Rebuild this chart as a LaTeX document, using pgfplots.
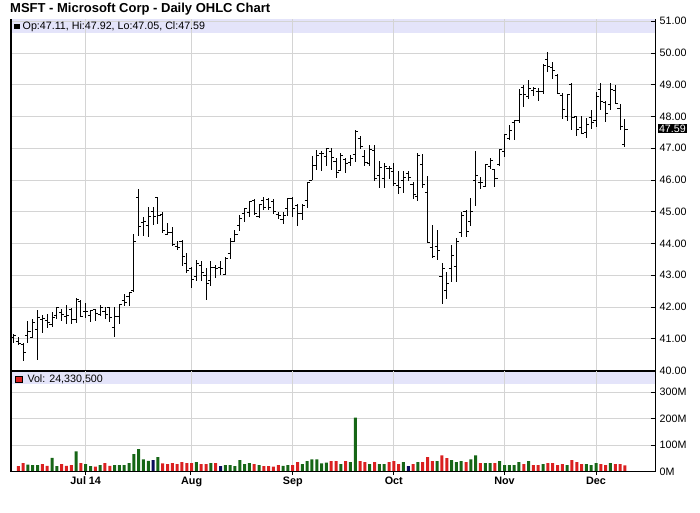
\documentclass[border=0pt]{standalone}
\usepackage{pgfplots}
\pgfplotsset{compat=1.18}
\usepackage{pgfplotstable}
\usepackage{fontspec}
\setmainfont{Liberation Sans}
\definecolor{band}{RGB}{228,228,250}
\definecolor{gridc}{RGB}{212,212,212}
\definecolor{vgreen}{RGB}{22,102,22}
\definecolor{vred}{RGB}{218,32,32}
\definecolor{vnavy}{RGB}{12,12,92}
\pgfdeclareplotmark{otick}{\pgfpathmoveto{\pgfqpoint{-2.6pt}{0pt}}\pgfpathlineto{\pgfqpoint{0pt}{0pt}}\pgfusepathqstroke}
\pgfdeclareplotmark{ctick}{\pgfpathmoveto{\pgfqpoint{0pt}{0pt}}\pgfpathlineto{\pgfqpoint{2.6pt}{0pt}}\pgfusepathqstroke}
\pgfplotstableread{
i o h l c v k
-15 41.03 41.16 40.86 41.11 0 9
-14 40.93 41.07 40.80 40.86 21 -1
-13 40.81 40.88 40.29 40.58 32 -1
-12 41.10 41.57 40.86 41.23 27 1
-11 41.04 41.61 41.04 41.50 25 1
-10 41.29 41.91 40.34 41.68 25 1
-9 41.61 41.74 41.18 41.65 29 -1
-8 41.57 41.77 41.33 41.51 22 -1
-7 41.45 41.83 41.38 41.68 52 1
-6 41.73 42.00 41.62 41.99 21 1
-5 41.83 41.94 41.56 41.75 29 -1
-4 41.70 42.05 41.46 41.72 22 -1
-3 41.93 41.96 41.46 41.62 25 -1
-2 41.61 42.29 41.51 42.25 77 1
-1 42.17 42.21 41.70 41.70 32 -1
0 41.86 42.12 41.66 41.87 29 1
1 41.73 41.90 41.53 41.90 21 1
2 41.91 41.95 41.56 41.80 19 -1
3 41.75 42.05 41.71 41.99 25 1
4 41.87 42.00 41.61 41.78 32 -1
5 41.98 41.99 41.53 41.67 22 -1
6 41.37 42.00 41.05 41.69 25 1
7 41.70 42.09 41.48 42.09 25 1
8 42.22 42.42 42.04 42.14 25 1
9 42.33 42.47 42.03 42.45 32 1
10 42.51 44.31 42.48 44.08 66 1
11 45.45 45.71 44.25 44.53 85 1
12 44.65 44.84 44.25 44.69 47 1
13 44.56 45.16 44.22 44.84 41 1
14 45.00 45.15 44.59 44.84 44 0
15 45.45 45.45 44.62 44.87 55 1
16 44.93 45.00 44.32 44.40 31 -1
17 44.30 44.66 44.30 44.35 29 -1
18 44.36 44.51 43.93 43.97 32 -1
19 43.91 44.09 43.80 43.89 29 -1
20 44.07 44.10 43.29 43.58 36 -1
21 43.38 43.69 43.08 43.16 32 -1
22 43.21 43.25 42.60 42.86 32 -1
23 42.97 43.47 42.81 43.37 36 1
24 43.31 43.46 42.83 43.08 29 -1
25 43.00 43.24 42.21 42.74 29 -1
26 42.84 43.45 42.65 43.23 32 1
27 43.23 43.32 42.91 43.20 32 -1
28 43.26 43.45 43.02 43.20 21 0
29 43.04 43.59 43.00 43.52 25 1
30 43.68 44.18 43.52 44.08 25 1
31 44.08 44.42 44.06 44.27 21 1
32 44.58 44.90 44.40 44.79 44 1
33 44.94 45.11 44.68 45.11 29 1
34 44.97 45.34 44.83 45.33 32 1
35 45.34 45.40 44.90 44.95 29 -1
36 44.84 45.25 44.83 45.22 25 1
37 45.35 45.47 45.07 45.15 21 -1
38 45.40 45.44 45.04 45.14 21 -1
39 45.31 45.40 44.94 45.01 19 -1
40 44.90 45.00 44.76 44.87 25 -1
41 44.75 44.98 44.61 44.88 22 1
42 45.09 45.44 44.86 45.43 25 1
43 45.43 45.46 44.85 45.09 25 -1
44 45.20 45.24 44.55 44.96 36 -1
45 44.96 45.24 44.74 45.20 29 1
46 45.34 45.95 45.11 45.91 40 1
47 45.99 46.74 45.99 46.47 47 1
48 46.47 46.96 46.33 46.76 47 1
49 46.82 46.90 46.28 46.84 31 1
50 46.75 47.02 46.44 47.00 34 1
51 46.89 47.02 46.33 46.70 40 -1
52 46.59 46.70 46.07 46.24 40 -1
53 46.30 46.86 46.28 46.76 29 1
54 46.65 46.70 46.23 46.52 40 -1
55 46.56 46.80 46.44 46.68 36 1
56 46.81 47.57 46.57 47.52 204 1
57 47.30 47.37 46.98 47.06 40 -1
58 46.74 46.96 46.44 46.56 36 -1
59 46.53 47.11 46.44 46.96 29 1
60 46.93 47.11 45.97 46.04 36 -1
61 46.15 46.60 45.74 46.41 29 1
62 46.04 46.54 45.74 46.44 29 1
63 46.37 46.44 46.03 46.36 36 -1
64 46.27 46.54 45.81 45.90 40 -1
65 45.83 46.28 45.55 45.76 29 -1
66 45.98 46.29 45.58 46.09 36 1
67 46.20 46.28 45.98 46.09 21 0
68 45.86 45.93 45.41 45.53 29 -1
69 45.48 46.86 45.35 46.78 36 1
70 46.50 46.81 45.75 45.85 36 -1
71 45.60 46.14 44.00 44.03 55 -1
72 43.88 44.57 43.53 43.58 40 -1
73 43.90 44.42 43.48 43.79 40 1
74 42.95 43.40 42.10 43.22 62 -1
75 42.53 43.11 42.25 42.74 51 -1
76 43.20 43.95 42.80 43.63 44 1
77 43.27 44.16 42.80 44.08 36 1
78 44.36 44.99 44.19 44.88 40 1
79 45.00 45.06 44.21 44.38 36 -1
80 44.70 45.44 44.54 45.02 47 1
81 46.00 46.91 45.19 46.13 62 1
82 45.93 46.08 45.72 45.91 32 -1
83 45.80 46.50 45.77 46.49 32 1
84 46.44 46.70 46.35 46.61 32 1
85 46.32 46.32 45.77 46.05 32 -1
86 46.50 46.99 46.45 46.95 40 1
87 46.89 47.46 46.73 47.44 25 1
88 47.30 47.73 47.25 47.57 25 1
89 47.80 47.90 47.26 47.86 25 1
90 47.86 48.86 47.79 48.70 36 1
91 48.92 48.98 48.29 48.68 29 -1
92 48.62 49.16 48.56 48.89 40 1
93 48.83 48.93 48.66 48.87 25 -1
94 48.80 48.90 48.50 48.78 25 -1
95 48.80 49.66 48.72 49.61 29 1
96 49.80 50.03 49.40 49.58 32 -1
97 49.55 49.72 49.19 49.46 32 -1
98 49.30 49.35 48.72 48.74 25 -1
99 48.66 48.74 47.93 48.22 29 -1
100 47.99 48.72 47.87 48.70 25 1
101 49.02 49.05 47.58 47.98 44 -1
102 47.99 48.00 47.40 47.59 36 -1
103 47.66 48.00 47.45 47.47 29 -1
104 47.49 47.96 47.33 47.75 29 1
105 47.98 48.21 47.61 47.81 25 1
106 47.88 48.77 47.66 48.62 32 1
107 48.84 49.05 48.19 48.46 29 -1
108 48.44 48.50 47.82 48.08 25 -1
109 48.39 49.05 48.21 48.84 32 1
110 48.82 48.98 48.40 48.42 29 -1
111 48.26 48.38 47.58 47.70 29 -1
112 47.11 47.92 47.05 47.59 24.33 -1
}\data
\begin{document}
\begin{tikzpicture}[x=1pt,y=1pt]
\path[use as bounding box] (0,0) rectangle (700,512);
\fill[band] (10.7,478.7) rectangle (655.7,493);
\fill[band] (10.7,128) rectangle (655.7,141.5);
\node[anchor=base west, inner sep=0pt, font=\bfseries\fontsize{13}{15}\selectfont] at (10,499.5) {MSFT - Microsoft Corp - Daily OHLC Chart};
\begin{axis}[
  at={(10.7pt,141.5pt)}, anchor=south west, scale only axis,
  width=645pt, height=351.5pt,
  xmin=-15.58, xmax=118.4, ymin=40, ymax=51.07,
  clip=false,
  axis line style={draw=none},
  xtick={0,22,43,64,87,106}, xticklabels={},
  major x tick style={draw=none},
  ytick={40,41,...,51}, ytick pos=right, yticklabel pos=right,
  tick align=inside, major tick length=5pt,
  major y tick style={black, line width=0.8pt},
  yticklabel style={font=\fontsize{10.7}{12}\selectfont, xshift=0.5pt,
    /pgf/number format/.cd, fixed, fixed zerofill, precision=2, assume math mode=true},
  xmajorgrids, ymajorgrids, grid style={gridc, line width=0.8pt},
]
\addplot[black, line width=0.9pt, only marks, mark=otick,
  error bars/.cd, y dir=both, y explicit, error mark=none,
  error bar style={black, line width=0.9pt}]
  table[x=i, y=o, y error plus expr=\thisrow{h}-\thisrow{o}, y error minus expr=\thisrow{o}-\thisrow{l}] {\data};
\addplot[black, line width=0.9pt, only marks, mark=ctick] table[x=i, y=c] {\data};
\draw[black, line width=1.6pt] (rel axis cs:0,0) -- (rel axis cs:0,1);
\draw[black, line width=0.9pt] (rel axis cs:1,0) -- (rel axis cs:1,1);
\draw[black, line width=2pt] (rel axis cs:0,0) -- (rel axis cs:1,0);
\end{axis}
\begin{axis}[
  at={(10.7pt,40.3pt)}, anchor=south west, scale only axis,
  width=645pt, height=100.7pt,
  xmin=-15.58, xmax=118.4, ymin=0, ymax=380,
  clip=false,
  axis line style={draw=none},
  xtick={0,22,43,64,87,106}, xticklabels={Jul 14,Aug,Sep,Oct,Nov,Dec},
  xticklabel style={font=\bfseries\fontsize{10.8}{12}\selectfont, yshift=-1.5pt},
  major x tick style={draw=none},
  ytick={0,100,200,300}, yticklabels={0M,100M,200M,300M},
  ytick pos=right, yticklabel pos=right,
  tick align=inside, major tick length=5pt,
  major y tick style={black, line width=0.8pt},
  yticklabel style={font=\fontsize{10.7}{12}\selectfont, xshift=0.5pt},
  xmajorgrids, ymajorgrids, grid style={gridc, line width=0.8pt},
]
\addplot[ybar, bar width=3pt, bar shift=0pt, fill=vgreen, draw=none,
  restrict expr to domain={\thisrow{k}}{0.5:1.5}] table[x=i, y=v] {\data};
\addplot[ybar, bar width=3pt, bar shift=0pt, fill=vred, draw=none,
  restrict expr to domain={\thisrow{k}}{-1.5:-0.5}] table[x=i, y=v] {\data};
\addplot[ybar, bar width=3pt, bar shift=0pt, fill=vnavy, draw=none,
  restrict expr to domain={\thisrow{k}}{-0.5:0.5}] table[x=i, y=v] {\data};
\draw[black, line width=1.6pt] (rel axis cs:0,0) -- (rel axis cs:0,1);
\draw[black, line width=0.9pt] (rel axis cs:1,0) -- (rel axis cs:1,1);
\draw[black, line width=1pt] (rel axis cs:0,0) -- (rel axis cs:1,0);
\end{axis}
\foreach \xm in {85.7,190.7,292.7,393.8,504.5,596} {\draw[black, line width=0.8pt] (\xm,40.3) -- (\xm,36.8);}
\fill[black] (14,482.7) rectangle (20,488);
\node[anchor=base west, inner sep=0pt, font=\fontsize{10.7}{12}\selectfont] at (22.5,482) {Op:47.11, Hi:47.92, Lo:47.05, Cl:47.59};
\fill[vred, draw=black, line width=0.5pt] (15.7,129.3) rectangle (22.3,136);
\node[anchor=base west, inner sep=0pt, font=\fontsize{10.7}{12}\selectfont] at (27.3,130) {Vol: 24,330,500};
\node[anchor=west, fill=black, text=white, inner xsep=1.5pt, inner ysep=0.8pt, text height=7.7pt, text depth=0pt, font=\fontsize{10.7}{12}\selectfont] at (657.3,383.5) {47.59};
\end{tikzpicture}
\end{document}
